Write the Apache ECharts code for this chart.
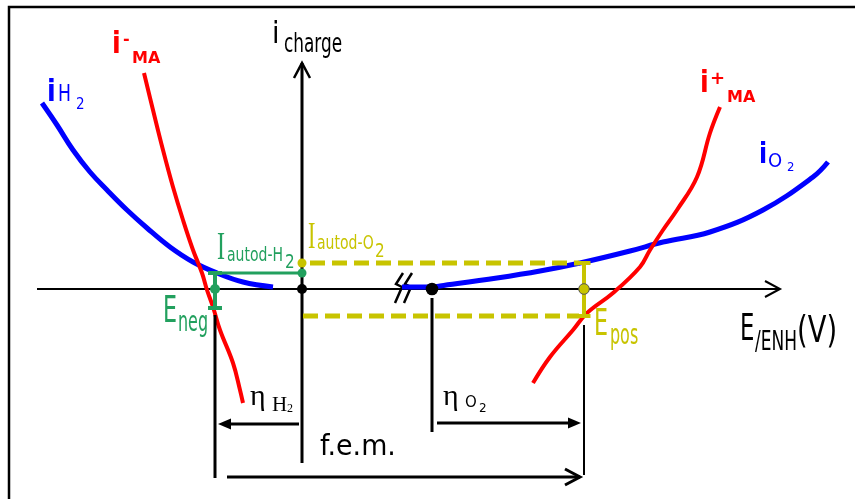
<!DOCTYPE html>
<html><head><meta charset="utf-8">
<script src="https://cdn.jsdelivr.net/npm/echarts@6/dist/echarts.min.js"></script>
<style>html,body{margin:0;padding:0;background:#fff}#c{width:855px;height:499px}</style>
</head><body><div id="c"></div>
<script>
// ---------- data: potential E (arbitrary V units, origin at i axis), current i (arbitrary units) ----------
const iH2_E    = [-2.60,-2.45,-2.29,-2.12,-1.95,-1.75,-1.55,-1.32,-1.09,-0.85,-0.59,-0.29];
const iH2_I    = [ 1.86, 1.64, 1.39, 1.17, 0.99, 0.79, 0.61, 0.42, 0.27, 0.16, 0.07, 0.02];
const iMAneg_E = [-1.58,-1.49,-1.39,-1.29,-1.19,-1.09,-1.00,-0.95,-0.89,-0.82,-0.69,-0.62,-0.59];
const iMAneg_I = [ 2.16, 1.79, 1.39, 1.02, 0.69, 0.39, 0.16,-0.01,-0.18,-0.41,-0.74,-1.01,-1.14];
const iO2_E    = [1.00,1.30,1.38,1.95,2.38,2.78,3.28,3.61,4.08,4.61,5.11,5.26];
const iO2_I    = [0.02,0.02,0.03,0.11,0.18,0.26,0.38,0.47,0.57,0.79,1.12,1.27];
const iMApos_E = [ 2.31, 2.48, 2.71, 2.85, 3.11,3.38,3.48,3.61,3.75,3.95,4.08,4.18];
const iMApos_I = [-0.94,-0.68,-0.41,-0.24,-0.04,0.22,0.39,0.59,0.79,1.12,1.56,1.82];

// key potentials / currents
const E_NEG = -0.87, E_POS = 2.82, E_EQ_O2 = 1.30, E_BREAK = 0.97;
const I_AUTOD_H2 = 0.16, I_AUTOD_O2 = 0.26, I_NEG_LOW = -0.19, I_POS_LOW = -0.27;
// axis extents
const E_AXIS = [-2.65, 4.78], I_AXIS = [-1.74, 2.26];
// dimension lines (bottom levels)
const Y_ETA = -1.35, Y_FEM = -1.88;

// label texts
const labelTexts = {
  icharge: ['i','charge'], iMAneg: ['i','-','MA'], iH2: ['i','H','2'], iMApos: ['i','+','MA'], iO2: ['i','O','2'],
  autodH2: ['I','autod-H','2'], autodO2: ['I','autod-O','2'], Eneg: ['E','neg'], Epos: ['E','pos'],
  Eaxis: ['E','/ENH','(V)'], etaH2: ['η','H','2'], etaO2: ['η','O','2'], fem: ['f.e.m.']
};

const BLUE = '#0000ff', RED = '#ff0000', GREEN = '#22a05e', YEL = '#c8c400', BLACK = '#000';
const SANS = "'DejaVu Sans'", SERIF = "'Liberation Serif'";

const zip = (a, b) => a.map((v, i) => [v, b[i]]);

function renderAxes(params, api) {
  const C = p => api.coord(p);
  const ch = [];
  const seg = (a, b, color, w) => { const p = C(a), q = C(b);
    ch.push({type:'line', shape:{x1:p[0],y1:p[1],x2:q[0],y2:q[1]}, style:{stroke:color,lineWidth:w}}); };
  const chev = (a, b, color, w, L, H) => { const p = C(a), q = C(b);
    const ang = Math.atan2(q[1]-p[1], q[0]-p[0]), c = Math.cos(ang), s = Math.sin(ang);
    const b1 = [q[0]-L*c - H*s, q[1]-L*s + H*c], b2 = [q[0]-L*c + H*s, q[1]-L*s - H*c];
    ch.push({type:'polyline', shape:{points:[b1,q,b2]}, style:{stroke:color,lineWidth:w,fill:null}}); };
  seg([E_AXIS[0],0],[E_AXIS[1],0],BLACK,2); chev([E_AXIS[0],0],[E_AXIS[1],0],BLACK,2,15,8);
  seg([0,I_AXIS[0]],[0,I_AXIS[1]],BLACK,3); chev([0,I_AXIS[0]],[0,I_AXIS[1]],BLACK,2.5,15,8);
  // axis break symbol
  const o = C([E_BREAK,0]);
  [0,9].forEach(d => ch.push({type:'polyline', shape:{points:[[o[0]+d+4,o[1]-16],[o[0]+d-3,o[1]-5],[o[0]+d+3,o[1]-2],[o[0]+d-4,o[1]+14]]},
    style:{stroke:BLACK,lineWidth:2.5,fill:null}}));
  return {type:'group', children: ch};
}

function renderAnnot(params, api) {
  const C = p => api.coord(p);
  const ch = [];
  const seg = (a, b, color, w, dash) => { const p = C(a), q = C(b);
    ch.push({type:'line', shape:{x1:p[0],y1:p[1],x2:q[0],y2:q[1]}, style:{stroke:color,lineWidth:w,lineDash:dash||null}}); };
  const head = (a, b, color, L, H) => { const p = C(a), q = C(b);
    const ang = Math.atan2(q[1]-p[1], q[0]-p[0]), c = Math.cos(ang), s = Math.sin(ang);
    ch.push({type:'polygon', shape:{points:[q,[q[0]-L*c-H*s,q[1]-L*s+H*c],[q[0]-L*c+H*s,q[1]-L*s-H*c]]}, style:{fill:color}}); };
  const chev = (a, b, color, w, L, H) => { const p = C(a), q = C(b);
    const ang = Math.atan2(q[1]-p[1], q[0]-p[0]), c = Math.cos(ang), s = Math.sin(ang);
    ch.push({type:'polyline', shape:{points:[[q[0]-L*c-H*s,q[1]-L*s+H*c],q,[q[0]-L*c+H*s,q[1]-L*s-H*c]]}, style:{stroke:color,lineWidth:w,fill:null}}); };
  const ibar = (e, i1, i2, color, w, hw) => { const p = C([e,i1]), q = C([e,i2]);
    ch.push({type:'line', shape:{x1:p[0],y1:p[1],x2:q[0],y2:q[1]}, style:{stroke:color,lineWidth:w}});
    ch.push({type:'line', shape:{x1:p[0]-hw,y1:p[1],x2:p[0]+hw,y2:p[1]}, style:{stroke:color,lineWidth:w}});
    ch.push({type:'line', shape:{x1:q[0]-hw,y1:q[1],x2:q[0]+hw,y2:q[1]}, style:{stroke:color,lineWidth:w}}); };
  const dot = (e, i, r, color, stroke) => { const p = C([e,i]);
    ch.push({type:'circle', shape:{cx:p[0],cy:p[1],r:r}, style:{fill:color, stroke:stroke||null, lineWidth:stroke?1:0}}); };

  // vertical reference lines
  seg([E_NEG,-0.26],[E_NEG,Y_FEM-0.01],BLACK,3);
  seg([E_EQ_O2,-0.09],[E_EQ_O2,-1.43],BLACK,3);
  seg([E_POS,-0.36],[E_POS,-1.86],BLACK,2);
  // overpotential arrows
  seg([-0.03,Y_ETA],[E_NEG+0.08,Y_ETA],BLACK,3); head([-0.03,Y_ETA],[E_NEG+0.03,Y_ETA],BLACK,13,5.5);
  seg([E_EQ_O2+0.05,Y_ETA+0.01],[E_POS-0.1,Y_ETA+0.01],BLACK,3); head([E_EQ_O2+0.05,Y_ETA+0.01],[E_POS-0.03,Y_ETA+0.01],BLACK,13,5.5);
  // f.e.m. arrow
  seg([E_NEG+0.12,Y_FEM],[E_POS-0.04,Y_FEM],BLACK,3); chev([E_NEG+0.12,Y_FEM],[E_POS-0.04,Y_FEM],BLACK,3,15,8);
  // yellow dashed levels
  seg([0.08,I_AUTOD_O2],[E_POS-0.05,I_AUTOD_O2],YEL,5,[15,7]);
  seg([0.01,I_POS_LOW],[E_POS-0.05,I_POS_LOW],YEL,5,[15,7]);
  // green level
  seg([E_NEG,I_AUTOD_H2],[0,I_AUTOD_H2],GREEN,3);
  ibar(E_NEG, I_AUTOD_H2, I_NEG_LOW, GREEN, 4, 7);
  ibar(E_POS, I_AUTOD_O2, I_POS_LOW, YEL, 4, 6.5);
  // points
  dot(E_NEG,0,5,GREEN); dot(0,I_AUTOD_H2,4.5,GREEN); dot(0,I_AUTOD_O2,4.5,YEL);
  dot(0,0,5,BLACK); dot(E_EQ_O2,0,6.3,BLACK); dot(E_POS,0,5.3,YEL,'#555');
  return {type:'group', children: ch};
}

// label layout: anchor (E,i) = left/baseline of first part; parts: [dx, dy, size, family, weight, scaleX]
const labelLayout = [
  {k:'icharge', at:[-0.30,2.44], color:BLACK, parts:[[0,0,30,SANS,'normal',0.9],[12,9,26,SANS,'normal',0.65]]},
  {k:'iMAneg', at:[-1.90,2.34], color:RED, parts:[[0,0,30,SANS,'bold',0.85],[11,-10,16,SANS,'bold',1],[20,9,16,SANS,'bold',1]]},
  {k:'iH2', at:[-2.55,1.86], color:BLUE, parts:[[0,0,30,SANS,'bold',0.85],[11,0,23,SANS,'normal',0.75],[29,7,15,SANS,'normal',0.9]]},
  {k:'iMApos', at:[3.98,1.95], color:RED, parts:[[0,0,30,SANS,'bold',0.85],[10,-9,18,SANS,'bold',1],[27,9,16,SANS,'bold',1]]},
  {k:'iO2', at:[4.57,1.24], color:BLUE, parts:[[0,0,28,SANS,'bold',0.85],[9,3,20,SANS,'normal',0.9],[28,7,13,SANS,'normal',0.9]]},
  {k:'autodH2', at:[-0.85,0.27], color:GREEN, parts:[[0,0,40,SERIF,'normal',0.6],[10,0,20,SANS,'normal',0.7],[68,7,19,SANS,'normal',0.8]]},
  {k:'autodO2', at:[0.06,0.39], color:YEL, parts:[[0,0,37,SERIF,'normal',0.6],[9,0,20,SANS,'normal',0.7],[67,8,19,SANS,'normal',0.8]]},
  {k:'Eneg', at:[-1.39,-0.36], color:GREEN, parts:[[0,0,37,SANS,'normal',0.6],[15,8,29,SANS,'normal',0.55]]},
  {k:'Epos', at:[2.92,-0.49], color:YEL, parts:[[0,0,37,SANS,'normal',0.6],[16,8,29,SANS,'normal',0.55]]},
  {k:'Eaxis', at:[4.38,-0.54], color:BLACK, parts:[[0,0,38,SANS,'normal',0.6],[15,9,27,SANS,'normal',0.63],[57,2,38,SANS,'normal',0.72]]},
  {k:'etaH2', at:[-0.52,-1.18], color:BLACK, parts:[[0,0,30,SERIF,'normal',1],[22,5,21,SERIF,'normal',1],[37,6,12,SERIF,'normal',1]]},
  {k:'etaO2', at:[1.41,-1.18], color:BLACK, parts:[[0,0,30,SERIF,'normal',1],[22,1,15,SANS,'normal',1],[36,6,12,SANS,'normal',1]]},
  {k:'fem', at:[0.18,-1.68], color:BLACK, parts:[[0,0,28,SANS,'normal',0.96]]}
];

function renderLabel(params, api) {
  const L = labelLayout[params.dataIndex];
  const p = api.coord(L.at);
  const texts = labelTexts[L.k];
  return {type:'group', children: L.parts.map((pt, j) => ({
    type:'text', x: p[0] + pt[0], y: p[1] + pt[1] - 0.33*pt[2], scaleX: pt[5],
    style:{text: texts[j], fill: L.color, font: pt[4] + ' ' + pt[2] + 'px ' + pt[3], align:'left', verticalAlign:'middle'}
  }))};
}

const curveBase = {type:'line', smooth:0.4, showSymbol:false};
const chart = echarts.init(document.getElementById('c'), null, {renderer:'canvas'});
chart.setOption({
  animation:false,
  backgroundColor:'#fff',
  grid:{left:0,right:0,top:0,bottom:0},
  xAxis:{type:'value', min:-3.02, max:5.53, show:false, splitLine:{show:false}},
  yAxis:{type:'value', min:-2.10, max:2.89, show:false, splitLine:{show:false}},
  graphic:[{type:'polyline', shape:{points:[[9,499],[9,7],[855,7]]}, style:{stroke:'#000',lineWidth:2.5,fill:null}, z:10}],
  series:[
    {type:'custom', name:'axes', renderItem:renderAxes, data:[[0,0]], z:1, clip:false, silent:true},
    Object.assign({name:'iH2', data:zip(iH2_E,iH2_I), lineStyle:{color:BLUE,width:5}, z:2}, curveBase),
    Object.assign({name:'iO2', data:zip(iO2_E,iO2_I), lineStyle:{color:BLUE,width:5}, z:2}, curveBase),
    Object.assign({name:'iMA-', data:zip(iMAneg_E,iMAneg_I), lineStyle:{color:RED,width:4}, z:3}, curveBase),
    Object.assign({name:'iMA+', data:zip(iMApos_E,iMApos_I), lineStyle:{color:RED,width:4}, z:3}, curveBase),
    {type:'custom', name:'annot', renderItem:renderAnnot, data:[[0,0]], z:4, clip:false, silent:true},
    {type:'custom', name:'labels', renderItem:renderLabel, data:labelLayout.map(l => l.at), z:5, clip:false, silent:true}
  ]
});
</script></body></html>
